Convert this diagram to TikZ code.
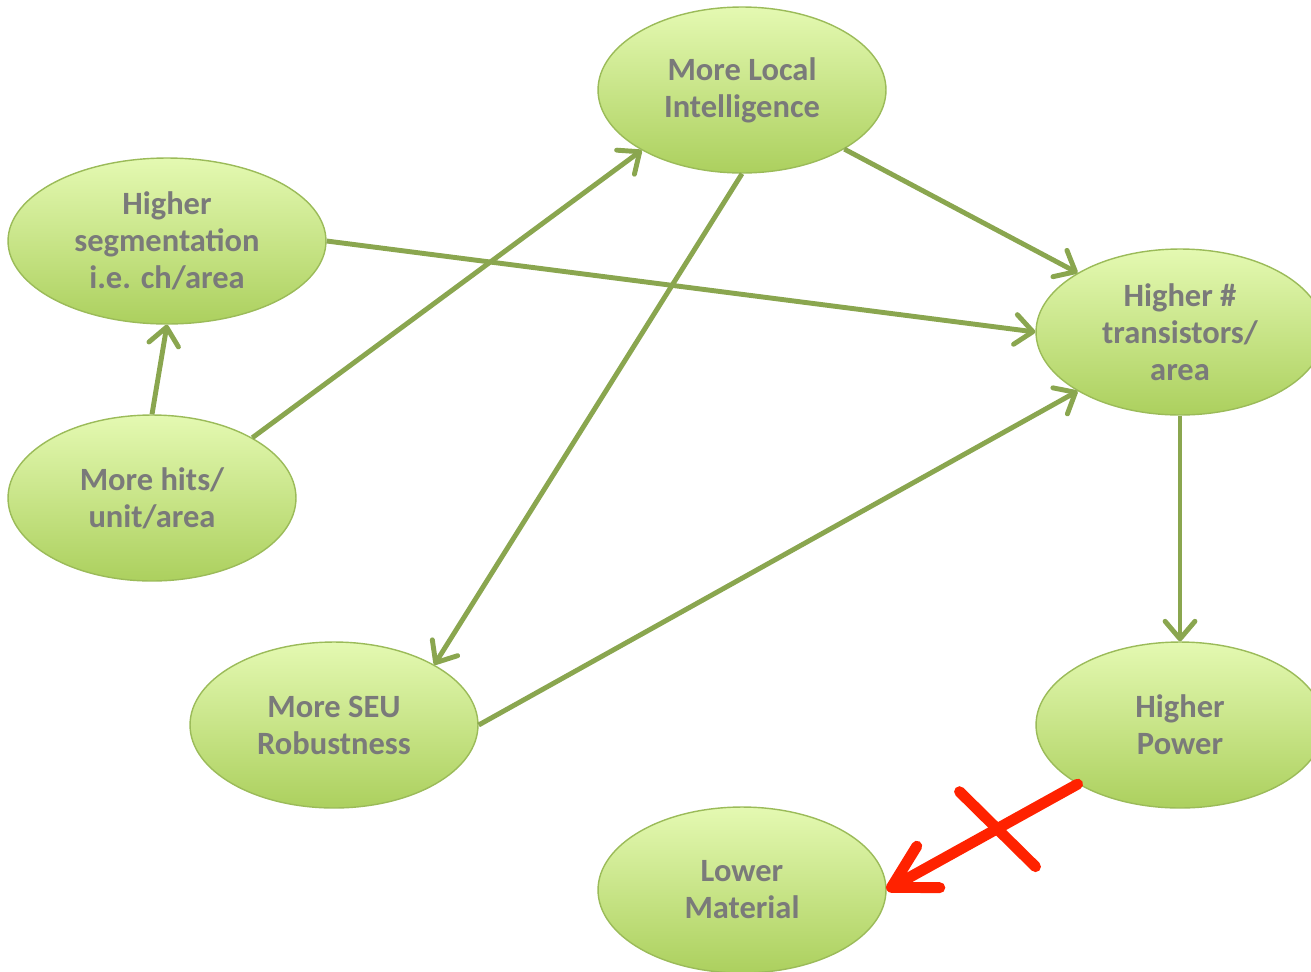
\documentclass[tikz,border=0pt]{standalone}
\usepackage{fontspec}
\setmainfont{Carlito}
\usetikzlibrary{arrows.meta}
\usetikzlibrary{shapes.geometric}

\definecolor{leaftop}{RGB}{228,249,178}
\definecolor{leafbot}{RGB}{172,208,94}
\definecolor{leafline}{RGB}{155,187,89}
\definecolor{linkgreen}{RGB}{138,166,79}
\definecolor{ideatext}{RGB}{122,122,122}
\definecolor{stopred}{RGB}{255,34,0}

\begin{document}
\begin{tikzpicture}[x=0.02cm,y=-0.02cm,
    idea/.style={ellipse,draw=leafline,line width=0.8pt,top color=leaftop,bottom color=leafbot,
      minimum width=5.76cm,minimum height=3.32cm,inner sep=0pt,align=center,text=ideatext,
      font=\fontsize{18.5pt}{21pt}\selectfont\bfseries},
    link/.style={draw=linkgreen,line width=2.8pt,-{Straight Barb[length=10pt,width=17pt,round]}},
    veto/.style={draw=stopred,line width=6.2pt,line cap=round}]
  \useasboundingbox (0,0) rectangle (1311,971);

  \node[idea] (local) at (742,90) {More Local\\Intelligence};
  \node[idea,minimum width=6.36cm] (seg) at (167,241) {Higher\\segmentation\\i.e. ch/area};
  \node[idea] (trans) at (1180,332) {Higher \#\\transistors/\\area};
  \node[idea] (hits) at (152,498) {More hits/\\unit/area};
  \node[idea] (seu) at (334,725) {More SEU\\Robustness};
  \node[idea] (power) at (1180,725) {Higher\\Power};
  \node[idea] (lower) at (742,890) {Lower\\Material};

  \draw[link] (hits.north) -- (seg.south);
  \draw[link] (hits.31) -- (local.211);
  \draw[link] (seg.east) -- (trans.west);
  \draw[link] (local.330) -- (trans.150);
  \draw[link] (local.south) -- (seu.31);
  \draw[link] (seu.east) -- (trans.210);
  \draw[link] (trans.south) -- (power.north);

  % the crossed-out link
  \draw[veto,-{Straight Barb[length=24pt,width=27pt,round]}] (power.210) -- coordinate[pos=0.43] (cut) (lower.east);
  \draw[veto] (cut) +(-36,-38) -- +(40,37);
\end{tikzpicture}
\end{document}
